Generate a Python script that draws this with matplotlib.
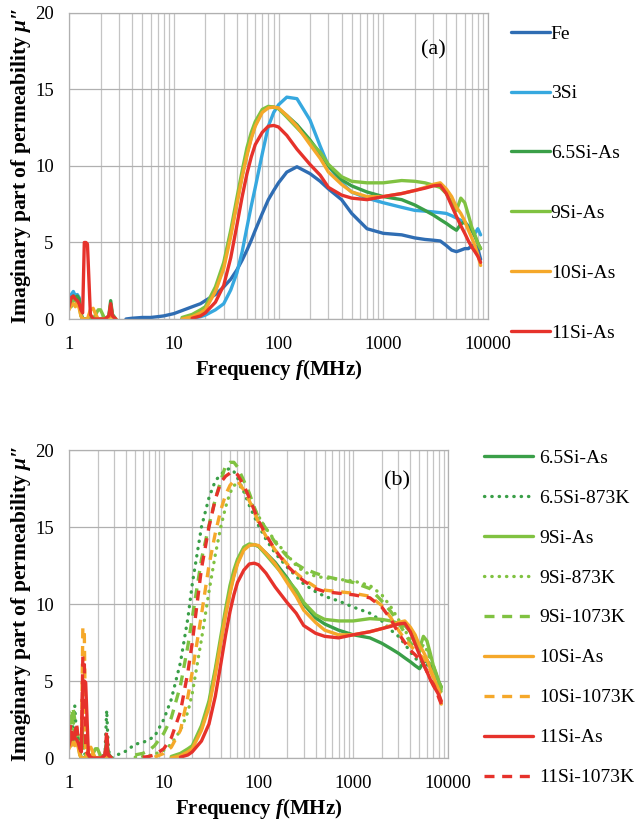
import matplotlib
matplotlib.use("Agg")
import matplotlib.pyplot as plt
from matplotlib.ticker import LogLocator, NullFormatter
import numpy as np

plt.rcParams['font.family'] = ['Liberation Serif', 'DejaVu Serif']
plt.rcParams['mathtext.fontset'] = 'custom'
plt.rcParams['mathtext.it'] = 'Liberation Serif:italic:bold'
plt.rcParams['mathtext.rm'] = 'Liberation Serif:bold'

nan = np.nan

# frequency grids (MHz): low-frequency noise region and main sweep
LOW_FREQ = [1.0, 1.05, 1.1, 1.15, 1.2, 1.25, 1.3, 1.35, 1.4, 1.45, 1.5,
            1.6, 1.7, 1.8, 1.9, 2.0, 2.2, 2.4, 2.5, 2.6, 2.8, 3.0]
MAIN_FREQ = [3.5, 4, 5, 6, 7, 8, 10, 12, 15, 18,
             20, 25, 30, 35, 40, 45, 50, 55, 60, 70,
             80, 90, 100, 120, 150, 200, 250, 300, 400, 500,
             700, 1000, 1500, 2000, 2500, 3000, 3500, 4000, 4500, 5000,
             5500, 6000, 6500, 7000, 7500, 8000, 8500]

# imaginary permeability mu''
fe_low = [nan] * 22
fe_main = [0.0, 0.05, 0.1, 0.1, 0.15, 0.2, 0.35, 0.55, 0.8, 1.0,
           1.2, 1.6, 2.1, 2.6, 3.2, 3.85, 4.5, 5.15, 5.8, 6.9,
           7.8, 8.4, 8.9, 9.6, 9.95, 9.5, 9.0, 8.5, 7.8, 6.9,
           5.9, 5.6, 5.5, 5.3, 5.2, 5.15, 5.1, 4.8, 4.5, 4.4,
           4.5, 4.6, 4.6, 4.8, 4.8, 4.6, 3.9]

si3_low = [1.2, 1.6, 1.8, 1.5, 1.6, 1.4, 0.3, 0.0, 0.0, 0.0, 0.0,
           0.0, 0.0, 0.0, 0.0, nan, nan, nan, nan, nan, nan, nan]
si3_main = [nan, nan, nan, nan, nan, nan, nan, 0.0, 0.05, 0.15,
            0.25, 0.6, 1.0, 1.9, 3.0, 4.4, 6.0, 7.4, 8.6, 10.8,
            12.6, 13.5, 14.0, 14.5, 14.4, 13.0, 11.3, 10.0, 8.9, 8.3,
            7.9, 7.6, 7.3, 7.1, 7.05, 7.0, 6.95, 6.9, 6.75, 6.6,
            6.45, 6.3, 6.1, 5.8, 5.6, 5.9, 5.5]

si65_as_low = [1.3, 1.2, 1.5, 1.4, 1.5, 1.3, 0.4, 0.0, 0.0, 0.0, 0.0,
               0.0, 0.0, 0.0, 0.0, 0.0, 0.0, 0.2, 1.2, 0.3, 0.0, nan]
si65_as_main = [nan, nan, nan, nan, nan, nan, nan, 0.0, 0.2, 0.45,
                0.7, 1.9, 3.5, 5.6, 7.6, 9.4, 10.8, 11.9, 12.7, 13.6,
                13.85, 13.85, 13.75, 13.3, 12.7, 11.7, 10.8, 10.0, 9.1, 8.7,
                8.3, 8.0, 7.8, 7.45, 7.1, 6.8, 6.5, 6.25, 6.0, 5.8,
                6.2, 6.35, 6.0, 5.8, 5.4, 4.95, 4.6]

si9_as_low = [1.0, 0.8, 1.2, 1.3, 1.0, 0.9, 0.2, 0.0, 0.0, 0.0, 0.0,
              0.0, 0.0, 0.3, 0.6, 0.6, 0.0, 0.1, 0.9, 0.2, 0.0, nan]
si9_as_main = [nan, nan, nan, nan, nan, nan, nan, 0.1, 0.3, 0.6,
               0.8, 2.1, 3.7, 5.8, 7.9, 9.7, 11.2, 12.2, 12.9, 13.7,
               13.9, 13.85, 13.75, 13.2, 12.5, 11.6, 10.9, 10.1, 9.3, 9.0,
               8.9, 8.9, 9.05, 9.0, 8.9, 8.75, 8.6, 8.2, 7.6, 7.1,
               7.9, 7.6, 6.8, 6.0, 5.5, 4.95, 4.6]

si10_as_low = [0.6, 0.9, 1.0, 0.8, 1.1, 0.7, 0.2, 0.0, 0.0, 0.0, 0.0,
               0.6, 0.7, 0.3, 0.0, 0.0, 0.0, 0.0, 0.5, 0.1, 0.0, nan]
si10_as_main = [nan, nan, nan, nan, nan, nan, nan, 0.0, 0.15, 0.4,
                0.6, 1.8, 3.3, 5.4, 7.5, 9.3, 10.7, 11.8, 12.6, 13.5,
                13.8, 13.85, 13.8, 13.3, 12.6, 11.4, 10.5, 9.6, 8.8, 8.3,
                8.0, 8.0, 8.2, 8.4, 8.6, 8.8, 8.9, 8.5, 8.0, 7.3,
                6.9, 6.4, 5.8, 5.3, 4.8, 4.2, 3.5]

si11_as_low = [0.8, 1.4, 1.5, 1.3, 1.2, 1.0, 0.6, 0.4, 5.0, 5.0, 4.9,
               0.3, 0.0, 0.0, 0.0, 0.0, 0.0, 0.2, 1.0, 0.2, 0.0, nan]
si11_as_main = [nan, nan, nan, nan, nan, nan, nan, nan, 0.05, 0.2,
                0.4, 1.1, 2.2, 4.0, 6.1, 8.0, 9.5, 10.6, 11.4, 12.2,
                12.6, 12.65, 12.55, 12.0, 11.1, 10.1, 9.4, 8.6, 8.1, 7.9,
                7.8, 8.0, 8.2, 8.4, 8.55, 8.7, 8.75, 8.2, 7.4, 6.7,
                6.1, 5.6, 5.1, 4.7, 4.4, 4.1, 3.7]

si65_873_low = [2.5, 1.8, 2.0, 3.4, 1.5, 1.2, 1.0, 0.5, 0.8, 0.3, 0.2,
                0.3, 0.1, 0.0, 0.0, 0.0, 0.0, 0.3, 3.1, 0.5, 0.0, 0.1]
si65_873_main = [0.3, 0.45, 0.9, 1.0, 1.2, 1.4, 2.5, 3.8, 6.2, 9.1,
                 11.3, 15.0, 16.9, 18.0, 18.4, 18.7, 18.8, 18.6, 18.2, 17.3,
                 16.4, 15.7, 15.1, 14.2, 13.3, 12.4, 11.8, 11.3, 10.8, 10.5,
                 10.2, 9.8, 9.4, 8.9, 8.3, 7.9, 7.4, 6.9, 6.5, 6.2,
                 6.3, 6.1, 5.7, 5.3, 4.9, 4.5, 4.1]

si9_873_low = [3.0, 1.5, 2.8, 1.3, 1.2, 1.5, 0.8, 0.5, 1.0, 0.4, 0.3,
               0.2, 0.1, 0.0, 0.0, 0.0, 0.0, 0.0, 0.4, 0.0, nan, nan]
si9_873_main = [nan, nan, 0.05, 0.1, 0.15, 0.25, 0.5, 0.9, 1.8, 3.0,
                4.2, 7.7, 10.8, 13.2, 15.0, 16.3, 17.2, 17.7, 17.8, 17.4,
                16.8, 16.2, 15.7, 14.9, 14.1, 13.2, 12.5, 12.1, 11.8, 11.7,
                11.6, 11.5, 11.2, 10.6, 9.8, 9.0, 8.3, 7.7, 7.4, 7.2,
                7.3, 7.0, 6.4, 5.8, 5.2, 4.7, 4.3]

si9_1073_low = [2.8, 2.0, 3.3, 2.5, 2.2, 1.0, 0.8, 0.6, 2.0, 0.5, 0.2,
                0.3, 0.0, 0.0, 0.0, 0.0, 0.0, 0.0, 0.6, 0.0, nan, nan]
si9_1073_main = [nan, nan, 0.2, 0.3, 0.5, 0.8, 1.6, 2.6, 4.7, 7.3,
                 9.1, 12.9, 15.1, 16.8, 18.0, 19.0, 19.2, 19.2, 18.9, 18.0,
                 17.2, 16.3, 15.6, 14.9, 14.0, 13.1, 12.6, 12.3, 12.0, 11.8,
                 11.6, 11.4, 11.0, 10.2, 9.5, 8.8, 8.1, 7.5, 7.1, 6.9,
                 7.4, 7.3, 6.6, 6.0, 5.4, 4.9, 4.4]

si10_1073_low = [1.2, 0.8, 1.0, 0.9, 1.2, 0.8, 0.5, 0.6, 8.5, 8.3, 0.4,
                 0.3, 0.2, 0.0, 0.0, 0.0, 0.0, 0.0, 0.5, 0.0, nan, nan]
si10_1073_main = [nan, nan, nan, nan, nan, 0.05, 0.3, 0.7, 1.8, 4.0,
                  5.6, 9.3, 12.5, 14.6, 16.1, 17.1, 17.7, 18.0, 18.0, 17.4,
                  16.7, 16.0, 15.3, 14.4, 13.5, 12.6, 12.0, 11.6, 11.1, 10.9,
                  10.8, 10.7, 10.5, 9.9, 9.1, 8.3, 7.7, 7.3, 7.0, 6.7,
                  6.5, 6.2, 5.7, 5.2, 4.8, 4.4, 4.0]

si11_1073_low = [1.5, 2.2, 1.0, 1.4, 2.3, 1.2, 1.0, 0.6, 6.6, 6.4, 0.5,
                 0.2, 0.0, 0.0, 0.0, 0.0, 0.0, 0.2, 1.8, 0.2, 0.0, nan]
si11_1073_main = [nan, nan, nan, 0.05, 0.1, 0.2, 0.6, 1.3, 3.0, 5.6,
                  7.5, 12.3, 15.0, 16.8, 17.9, 18.3, 18.5, 18.6, 18.4, 17.7,
                  16.9, 16.1, 15.4, 14.5, 13.5, 12.5, 11.9, 11.5, 11.0, 10.8,
                  10.7, 10.6, 10.4, 9.8, 9.0, 8.1, 7.5, 7.0, 6.7, 6.4,
                  6.1, 5.6, 5.1, 4.8, 4.4, 3.9, 3.5]

freq = LOW_FREQ + MAIN_FREQ

C_FE = '#2f6db3'
C_3SI = '#36a8df'
C_65 = '#3a9f48'
C_9 = '#80c241'
C_10 = '#f5a82a'
C_11 = '#e6322b'

LW = 2.4
DOT = (0, (0.1, 2.1))
DASH = (0, (3.0, 2.3))

series_a = [
    ('Fe', fe_low + fe_main, C_FE, '-'),
    ('3Si', si3_low + si3_main, C_3SI, '-'),
    ('6.5Si-As', si65_as_low + si65_as_main, C_65, '-'),
    ('9Si-As', si9_as_low + si9_as_main, C_9, '-'),
    ('10Si-As', si10_as_low + si10_as_main, C_10, '-'),
    ('11Si-As', si11_as_low + si11_as_main, C_11, '-'),
]
series_b = [
    ('6.5Si-As', si65_as_low + si65_as_main, C_65, '-'),
    ('6.5Si-873K', si65_873_low + si65_873_main, C_65, DOT),
    ('9Si-As', si9_as_low + si9_as_main, C_9, '-'),
    ('9Si-873K', si9_873_low + si9_873_main, C_9, DOT),
    ('9Si-1073K', si9_1073_low + si9_1073_main, C_9, DASH),
    ('10Si-As', si10_as_low + si10_as_main, C_10, '-'),
    ('10Si-1073K', si10_1073_low + si10_1073_main, C_10, DASH),
    ('11Si-As', si11_as_low + si11_as_main, C_11, '-'),
    ('11Si-1073K', si11_1073_low + si11_1073_main, C_11, DASH),
]

fig = plt.figure(figsize=(6.35, 8.21), dpi=100)
W, H = 635.0, 821.0
ax_a = fig.add_axes([69 / W, 1 - 319 / H, 419 / W, 306 / H])
ax_b = fig.add_axes([69 / W, 1 - 758 / H, 379 / W, 308 / H])


def style_axes(ax, ylabel_x):
    ax.set_xscale('log')
    ax.set_xlim(1, 10000)
    ax.set_ylim(0, 20)
    ax.set_xticks([1, 10, 100, 1000, 10000])
    ax.set_xticklabels(['1', '10', '100', '1000', '10000'])
    ax.xaxis.set_minor_locator(LogLocator(base=10, subs=np.arange(2, 10)))
    ax.xaxis.set_minor_formatter(NullFormatter())
    ax.set_yticks([0, 5, 10, 15, 20])
    ax.tick_params(which='both', length=0, labelsize=13.5)
    ax.tick_params(axis='x', pad=12)
    ax.tick_params(axis='y', pad=11)
    ax.grid(which='both', axis='x', color='#c4c4c4', lw=0.9)
    ax.grid(which='major', axis='y', color='#b0b0b0', lw=0.9)
    ax.set_axisbelow(True)
    for sp in ax.spines.values():
        sp.set_color('#b0b0b0')
        sp.set_linewidth(0.9)
    ax.set_xlabel('Frequency $f$(MHz)', fontsize=15, fontweight='bold', labelpad=4)
    ax.set_ylabel("Imaginary part of permeability $\\mu$\u2033", fontsize=15.5,
                  fontweight='bold')
    ax.yaxis.set_label_coords(ylabel_x, 0.5)


for ax, series, ylx in ((ax_a, series_a, -36 / 419), (ax_b, series_b, -36 / 379)):
    style_axes(ax, ylx)
    for label, vals, color, ls in series:
        ln, = ax.plot(freq, vals, color=color, lw=LW, linestyle=ls, label=label,
                      solid_capstyle='round', solid_joinstyle='round')
        if ls == DOT:
            ln.set_dash_capstyle('round')

ax_a.text(0.87, 0.88, '(a)', transform=ax_a.transAxes, fontsize=16,
          ha='center', va='center')
ax_b.text(0.865, 0.90, '(b)', transform=ax_b.transAxes, fontsize=16,
          ha='center', va='center')

fig.legend(handles=ax_a.get_lines(), loc='upper left',
           bbox_to_anchor=(511 / W, 1 - 25 / H), frameon=False, fontsize=14,
           handlelength=2.0, handletextpad=0.05, labelspacing=2.17,
           borderpad=0, borderaxespad=0)
fig.legend(handles=ax_b.get_lines(), loc='upper left',
           bbox_to_anchor=(484 / W, 1 - 449 / H), frameon=False, fontsize=14,
           handlelength=2.5, handletextpad=0.35, labelspacing=1.15,
           borderpad=0, borderaxespad=0)

fig.savefig('out.png', dpi=100)
